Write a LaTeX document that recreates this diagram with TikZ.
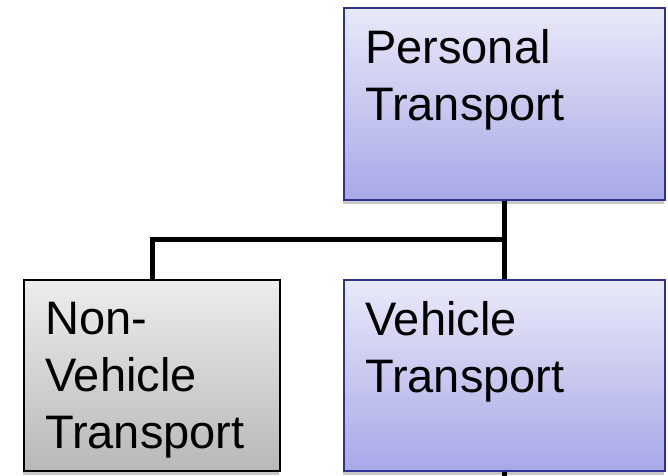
\documentclass[tikz,border=0pt]{standalone}
\usepackage{fontspec}
\setmainfont{Liberation Sans}
\usetikzlibrary{shadows}
\definecolor{bluetop}{HTML}{E9E9F9}
\definecolor{bluebot}{HTML}{A8A8E8}
\definecolor{blueline}{HTML}{2E3192}
\definecolor{graytop}{HTML}{EDEDED}
\definecolor{graybot}{HTML}{B8B8B8}
\definecolor{shadowcol}{HTML}{C8C8C8}
\tikzset{
  boxbase/.style={rectangle, anchor=north west, inner sep=0pt, line width=1.8pt,
    drop shadow={shadow xshift=-1pt, shadow yshift=-4pt, fill=shadowcol, opacity=1}},
  bluebox/.style={boxbase, draw=blueline, top color=bluetop, bottom color=bluebot},
  graybox/.style={boxbase, draw=black, top color=graytop, bottom color=graybot},
  boxtext/.style={anchor=north west, inner sep=0pt, align=left,
    font=\fontsize{47}{57}\selectfont},
  conn/.style={line width=5pt, draw=black}
}
\begin{document}
\begin{tikzpicture}[x=1pt,y=-1pt]
\useasboundingbox (0,0) rectangle (668,475);
\node[bluebox, minimum width=321pt, minimum height=192pt] (pt) at (343,7) {};
\node[graybox, minimum width=256pt, minimum height=191pt] (nvt) at (23,279) {};
\node[bluebox, minimum width=321pt, minimum height=191pt] (vt) at (343,279) {};
\node[boxtext] (ptt) at (365,29.5) {Personal\\Transport};
\node[boxtext] (nvtt) at (45,301.5) {Non-\\Vehicle\\Transport};
\node[boxtext] (vtt) at (365,301.5) {Vehicle\\Transport};
\coordinate (jn) at (504,239);
\coordinate (bottomend) at (504,476);
\draw[conn] (pt.south -| jn) -- (vt.north -| jn);
\draw[conn] (jn) -- (152,239) -- (nvt.north -| 152,0);
\draw[conn] (vt.south -| jn) -- (bottomend);
\end{tikzpicture}
\end{document}
